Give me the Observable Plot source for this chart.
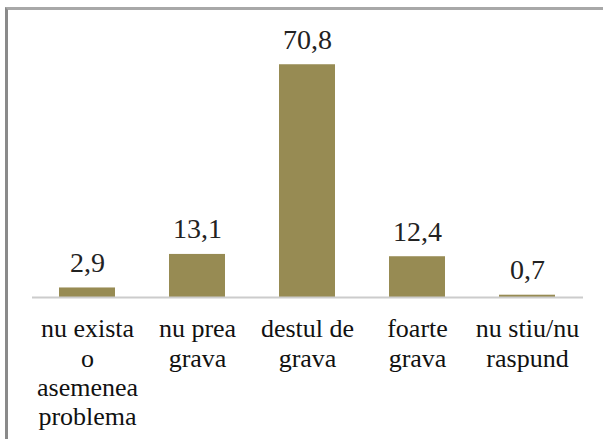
<!DOCTYPE html>
<html>
<head>
<meta charset="utf-8">
<script src="https://cdn.jsdelivr.net/npm/d3@7"></script>
<script src="https://cdn.jsdelivr.net/npm/@observablehq/plot@0.6"></script>
<style>
  html, body { margin: 0; padding: 0; background: #fff; }
  #wrap { position: relative; width: 603px; height: 439px; overflow: hidden; }
  #frame { position: absolute; left: 5px; top: 7px; width: 700px; height: 600px;
           border-left: 3px solid #8a8a8a; border-top: 3px solid #a8a8a8; }
  #chart { position: absolute; left: 0; top: 0; }
</style>
</head>
<body>
<div id="wrap"><div id="frame"></div><div id="chart"></div></div>
<script>
const categories = ["nu exista o asemenea problema", "nu prea grava", "destul de grava", "foarte grava", "nu stiu/nu raspund"];
const tickLabels = ["nu exista\no\nasemenea\nproblema", "nu prea\ngrava", "destul de\ngrava", "foarte\ngrava", "nu stiu/nu\nraspund"];
const values = [2.9, 13.1, 70.8, 12.4, 0.7];

const data = categories.map((c, i) => ({category: c, value: values[i]}));
const fmt = v => v.toFixed(1).replace(".", ",");
const serif = "Liberation Serif";

const chart = Plot.plot({
  width: 603,
  height: 439,
  marginLeft: 32,
  marginRight: 20,
  marginTop: 34,
  marginBottom: 142,
  style: {background: "transparent", overflow: "visible"},
  x: {domain: categories, paddingInner: 0.49, paddingOuter: 0.245, label: null,
      tickFormat: d => tickLabels[categories.indexOf(d)]},
  y: {domain: [0, 80], axis: null},
  marks: [
    Plot.barY(data, {x: "category", y: "value", fill: "#978b53"}),
    Plot.ruleY([0], {stroke: "#cccccc", strokeWidth: 2}),
    Plot.text(data, {x: "category", y: "value", text: d => fmt(d.value), dy: -16, lineAnchor: "bottom",
      fontSize: 28, fontFamily: serif, fill: "#222"}),
    Plot.axisX({tickSize: 0, tickPadding: 19, fontSize: 26, fontFamily: serif, lineHeight: 1.13, fill: "#111", label: null,
      tickFormat: d => tickLabels[categories.indexOf(d)]})
  ]
});
document.getElementById("chart").appendChild(chart);
function applySerif() {
  chart.style.setProperty("font-family", "'Liberation Serif', serif", "important");
  chart.querySelectorAll("text, g, tspan").forEach(el => {
    el.setAttribute("font-family", serif);
    el.style.setProperty("font-family", "'Liberation Serif', serif", "important");
  });
}
applySerif();
requestAnimationFrame(applySerif);
setTimeout(applySerif, 0);
</script>
</body>
</html>
